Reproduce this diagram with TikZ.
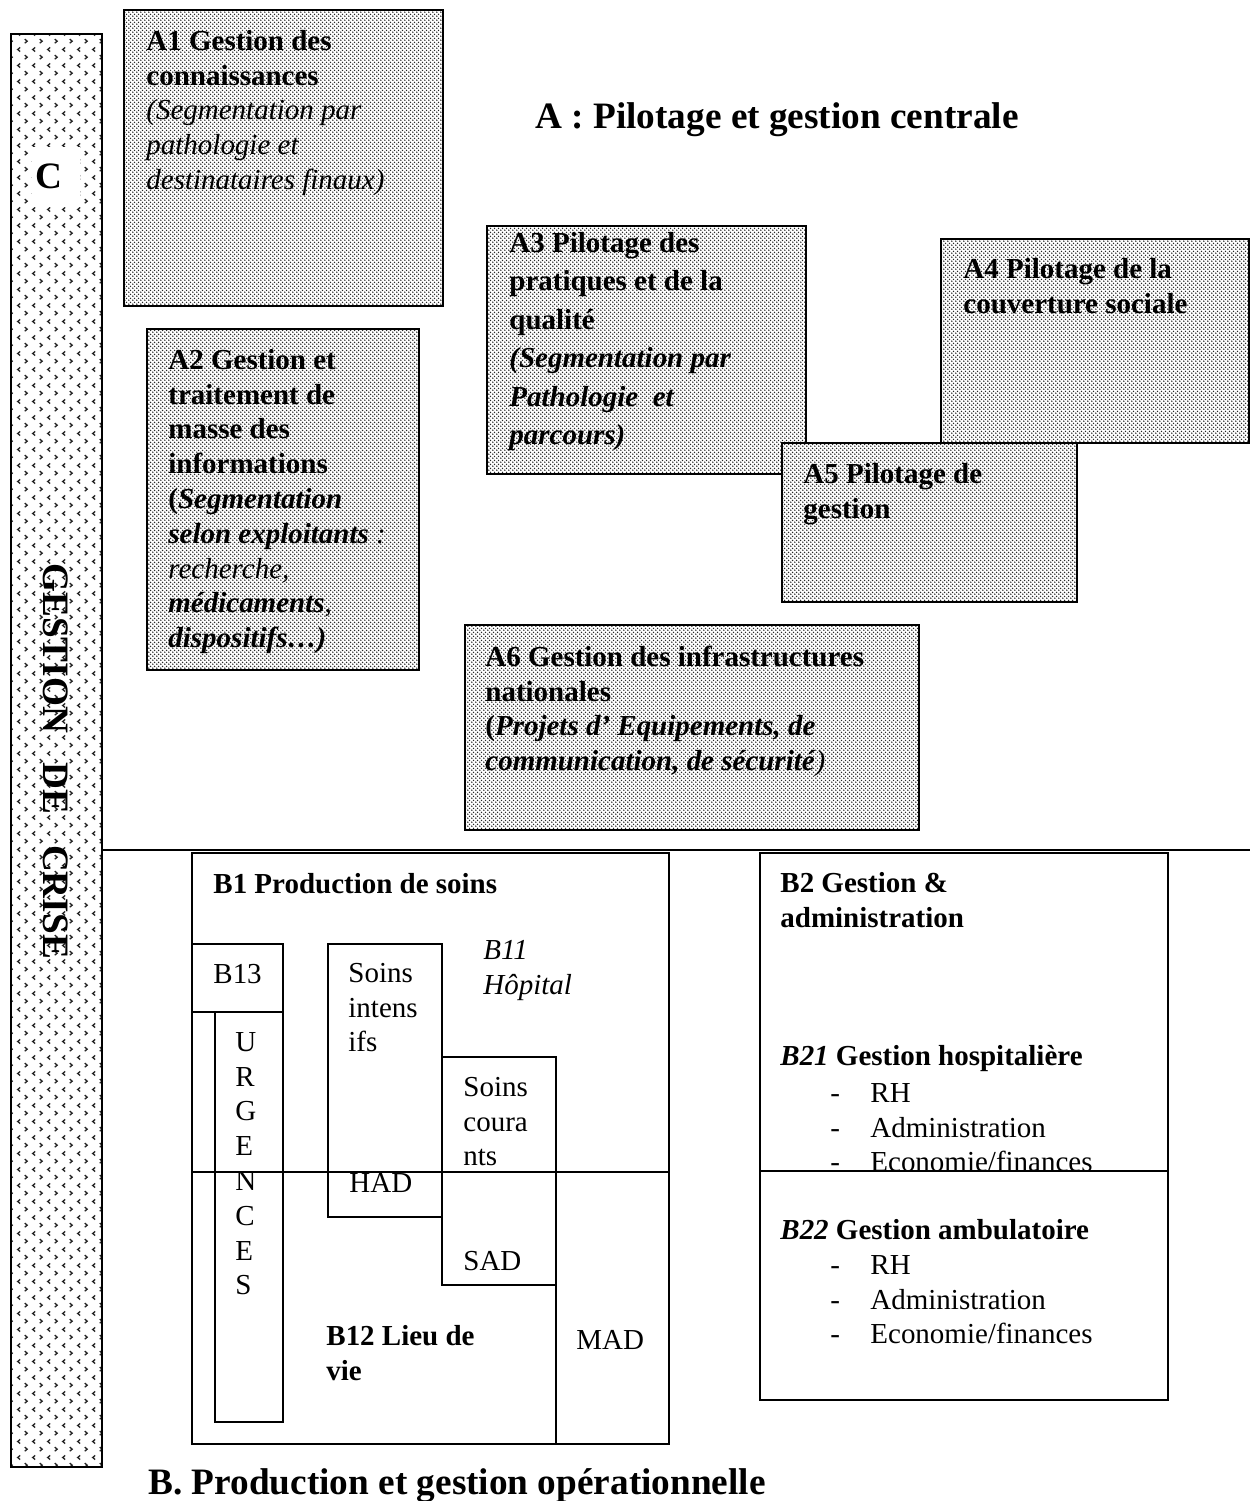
\documentclass[tikz,border=0pt]{standalone}
\usepackage{fontspec}
\setmainfont{Liberation Serif}
\usetikzlibrary{patterns}

% fine staggered dots for the A blocks
\pgfdeclarepatternformonly{finedots}{\pgfpointorigin}{\pgfpoint{2pt}{2pt}}{\pgfpoint{2pt}{2pt}}{%
  \pgfpathcircle{\pgfpoint{0.5pt}{0.5pt}}{0.44pt}%
  \pgfpathcircle{\pgfpoint{1.5pt}{1.5pt}}{0.44pt}%
  \pgfusepath{fill}%
}
% small alternating chevrons for the crisis band
\pgfdeclarepatternformonly{chevrons}{\pgfpointorigin}{\pgfpoint{7.2pt}{7.8pt}}{\pgfpoint{7.2pt}{7.8pt}}{%
  \pgfsetlinewidth{0.65pt}%
  \pgfpathmoveto{\pgfpoint{2.5pt}{6.9pt}}%
  \pgfpathlineto{\pgfpoint{1.3pt}{5.85pt}}%
  \pgfpathlineto{\pgfpoint{2.5pt}{4.8pt}}%
  \pgfpathmoveto{\pgfpoint{4.7pt}{3.0pt}}%
  \pgfpathlineto{\pgfpoint{5.9pt}{1.95pt}}%
  \pgfpathlineto{\pgfpoint{4.7pt}{0.9pt}}%
  \pgfusepath{stroke}%
}

\newcommand{\firststrut}{\rule{0pt}{10pt}}

\begin{document}
\begin{tikzpicture}[x=0.483pt,y=-0.483pt,
  frame/.style={draw=black, line width=0.8pt},
  dotbox/.style={frame, preaction={fill=white}, pattern=finedots, pattern color=black!85},
  band/.style={frame, preaction={fill=white}, pattern=chevrons, pattern color=black!85},
  txt/.style={anchor=north west, inner sep=0pt, align=left, yshift=10pt,
              font=\fontsize{14}{16.8}\selectfont},
  lbl/.style={anchor=base west, inner sep=0pt, font=\fontsize{14}{16.8}\selectfont},
  big/.style={anchor=base west, inner sep=0pt, font=\fontsize{18}{21}\selectfont\bfseries}]

\useasboundingbox (0,0) rectangle (1250,1501);

% ---------- C : crisis management band ----------
\draw[band] (11,34) rectangle (102,1467);
\fill[white] (32,147) rectangle (80,207);
\node[big] (cletter) at (35,188) {C};
\node[big, rotate=-90] (crise) at (43,563) {GESTION\hspace{14pt}DE\hspace{15pt}CRISE};

% ---------- A : central steering ----------
\draw[dotbox] (124,10) rectangle (443,306);
\draw[dotbox] (147,329) rectangle (419,670);
\draw[dotbox] (487,226) rectangle (806,474);
\draw[dotbox] (941,239) rectangle (1249,443);
\draw[dotbox] (782,443) rectangle (1077,602);
\draw[dotbox] (465,625) rectangle (919,830);

\node[big] (atitle) at (535,128) {A : Pilotage et gestion centrale};

\node[txt] (a1) at (146,50) {\firststrut\textbf{A1 Gestion des}\\\textbf{connaissances}\\
  \textit{(Segmentation par}\\\textit{pathologie et}\\\textit{destinataires finaux)}};

\node[txt] (a2) at (168,369) {\firststrut\textbf{A2 Gestion et}\\\textbf{traitement de}\\
  \textbf{masse des}\\\textbf{informations}\\\textbf{(\textit{Segmentation}}\\
  \textbf{\textit{selon exploitants}} \textit{:}\\\textit{recherche,}\\
  \textbf{\textit{médicaments}},\\\textbf{\textit{dispositifs…)}}};

\node[txt, font=\fontsize{14}{18.6}\selectfont] (a3) at (509,252) {\firststrut\textbf{A3 Pilotage des}\\
  \textbf{pratiques et de la}\\\textbf{qualité}\\\textbf{\textit{(Segmentation par}}\\
  \textbf{\textit{Pathologie\ \ et}}\\\textbf{\textit{parcours)}}};

\node[txt] (a4) at (963,278) {\firststrut\textbf{A4 Pilotage de la}\\\textbf{couverture sociale}};

\node[txt] (a5) at (803,483) {\firststrut\textbf{A5 Pilotage de}\\\textbf{gestion}};

\node[txt] (a6) at (485,666) {\firststrut\textbf{A6 Gestion des infrastructures}\\\textbf{nationales}\\
  \textbf{(\textit{Projets d’ Equipements, de}}\\\textbf{\textit{communication, de sécurité}}\textit{)}};

% ---------- separation between A and B ----------
\draw[line width=1.2pt] (102,850) -- (1250,850);

% ---------- B1 : care production ----------
\draw[frame] (192,853) rectangle (669,1444);
\draw[frame] (192,1172) -- (669,1172);
\draw[frame] (192,944) rectangle (283,1012);
\draw[frame] (215,1012) rectangle (283,1422);
\draw[frame] (328,944) rectangle (442,1217);
\draw[frame] (442,1057) rectangle (556,1285);
\draw[frame] (556,1285) -- (556,1444);

\node[lbl, font=\fontsize{14}{16.8}\selectfont\bfseries] (b1) at (213,893) {B1 Production de soins};
\node[lbl] (b13) at (213,983) {B13};
\node[txt] (urg) at (235,1051) {\firststrut U\\R\\G\\E\\N\\C\\E\\S};
\node[txt] (sint) at (348,982) {\firststrut Soins\\intens\\ifs};
\node[txt] (b11) at (483,959) {\firststrut\textit{B11}\\\textit{Hôpital}};
\node[txt] (scour) at (463,1096) {\firststrut Soins\\coura\\nts};
\node[lbl] (had) at (349,1192) {HAD};
\node[lbl] (sad) at (463,1270) {SAD};
\node[txt] (b12) at (326,1345) {\firststrut\textbf{B12 Lieu de}\\\textbf{vie}};
\node[lbl] (mad) at (576,1349) {MAD};

% ---------- B2 : management and administration ----------
\draw[frame] (760,853) rectangle (1168,1400);
\node[txt] (b2) at (780,892) {\firststrut\textbf{B2 Gestion \&}\\\textbf{administration}};
\node[lbl] (b21) at (780,1065) {\textbf{\textit{B21}} \textbf{Gestion hospitalière}};
\node[txt] (b21d) at (830,1102) {\firststrut -\\-\\-};
\node[txt] (b21i) at (870,1102) {\firststrut RH\\Administration\\Economie/finances};
\draw[frame, fill=white] (760,1171) rectangle (1168,1400);
\node[lbl] (b22) at (780,1239) {\textbf{\textit{B22}} \textbf{Gestion ambulatoire}};
\node[txt] (b22d) at (830,1274) {\firststrut -\\-\\-};
\node[txt] (b22i) at (870,1274) {\firststrut RH\\Administration\\Economie/finances};

\node[big] (btitle) at (148,1494) {B. Production et gestion opérationnelle};

\end{tikzpicture}
\end{document}
